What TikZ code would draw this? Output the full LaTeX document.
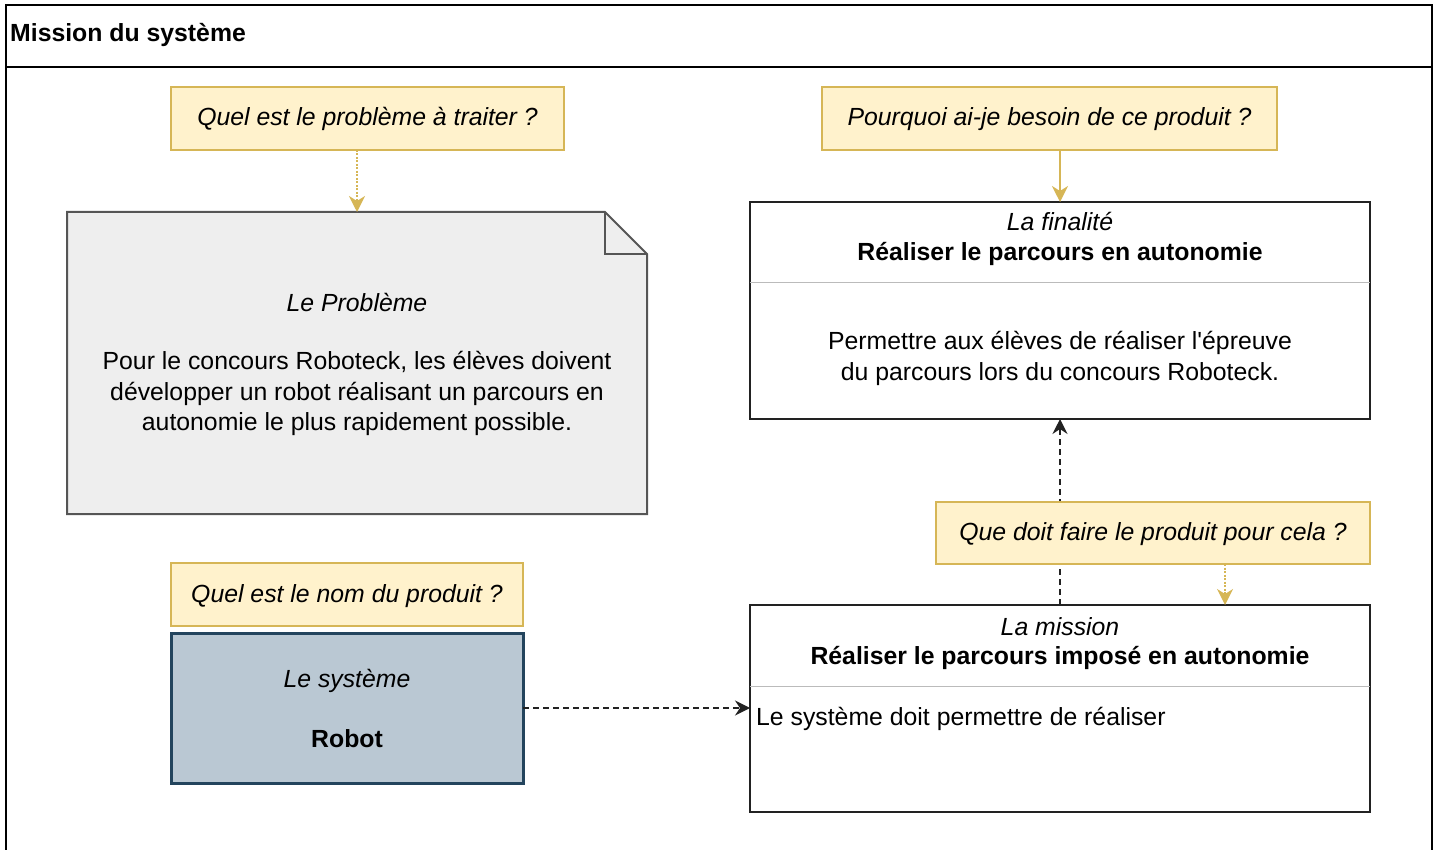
\documentclass[tikz,border=0pt]{standalone}
\usepackage{fontspec}
\setmainfont{Liberation Sans}
\usetikzlibrary{arrows.meta,calc}
\definecolor{qfill}{HTML}{FFF2CC}
\definecolor{qdraw}{HTML}{D6B656}
\definecolor{notefill}{HTML}{EEEEEE}
\definecolor{notedraw}{HTML}{555555}
\definecolor{robfill}{HTML}{BAC8D3}
\definecolor{robdraw}{HTML}{23445D}
\definecolor{sepcol}{HTML}{BBBBBB}
\definecolor{boxdraw}{HTML}{222222}
\newcommand\myfs{\fontsize{24.8}{30}\selectfont}
\begin{document}
\begin{tikzpicture}[x=1pt,y=-1pt,
  txt/.style={anchor=base, inner sep=0pt, font=\myfs},
  itxt/.style={txt, font=\myfs\itshape},
  btxt/.style={txt, font=\myfs\bfseries},
  shell/.style={inner sep=0pt, outer sep=0pt},
  whitebox/.style={shell, draw=boxdraw, fill=white, line width=2pt},
  qbox/.style={shell, draw=qdraw, fill=qfill, line width=1.5pt},
  goldtip/.style={-{Stealth[length=16pt,width=16pt,inset=5pt]}},
  goldarrow/.style={draw=qdraw, line width=1.5pt, goldtip},
  golddotted/.style={goldarrow, dash pattern=on 2pt off 1.5pt},
  dashline/.style={draw=boxdraw, line width=1.5pt, dash pattern=on 6pt off 4pt},
  blackarrow/.style={dashline, -{Stealth[length=15pt,width=15pt,inset=5pt]}}
]
\useasboundingbox (0,0) rectangle (1436,850);

% outer frame
\draw[line width=2pt] (6,852) -- (6,5) -- (1432,5) -- (1432,852);
\draw[line width=2pt] (6,67) -- (1432,67);
\node[btxt, anchor=base west] (title) at (10,42) {Mission du système};

% note (problem)
\node[shell, minimum width=580pt, minimum height=302pt] (note) at (357,363) {};
\draw[fill=notefill, draw=notedraw, line width=2pt]
  (note.south west) -- (note.north west) -- ($(note.north east)+(-42,0)$)
  -- ($(note.north east)+(0,42)$) -- (note.south east) -- cycle;
\draw[draw=notedraw, line width=2pt]
  ($(note.north east)+(-42,0)$) -- ($(note.north east)+(-42,42)$) -- ($(note.north east)+(0,42)$);
\node[itxt] (probt) at (357,312) {Le Problème};
\node[txt] (prob1) at (357,370) {Pour le concours Roboteck, les élèves doivent};
\node[txt] (prob2) at (357,401) {développer un robot réalisant un parcours en};
\node[txt] (prob3) at (357,431) {autonomie le plus rapidement possible.};

% finalite
\node[whitebox, minimum width=620pt, minimum height=217pt] (fin) at (1060,310.5) {};
\draw[sepcol, line width=1pt] (fin.west |- 0,283) -- (fin.east |- 0,283);
\node[itxt] (fint) at (1060,231) {La finalité};
\node[btxt] (finb) at (1060,261) {Réaliser le parcours en autonomie};
\node[txt] (fin1) at (1060,350) {Permettre aux élèves de réaliser l\textquotesingle épreuve};
\node[txt] (fin2) at (1060,381) {du parcours lors du concours Roboteck.};

% mission
\node[whitebox, minimum width=620pt, minimum height=207pt] (mis) at (1060,708.5) {};
\draw[sepcol, line width=1pt] (mis.west |- 0,686) -- (mis.east |- 0,686);
\node[itxt] (mist) at (1060,635) {La mission};
\node[btxt] (misb) at (1060,664) {Réaliser le parcours imposé en autonomie};
\node[txt, anchor=base west] (mis1) at (756,725) {Le système doit permettre de réaliser};

% robot
\node[shell, draw=robdraw, fill=robfill, line width=3pt, minimum width=352pt, minimum height=150pt] (robot) at (347,708) {};
\node[itxt] (robt) at (347,687) {Le système};
\node[btxt] (robb) at (347,747) {Robot};

% connectors
\draw[dashline] ($(note.east)+(0,-16)$) -- ($(note.east)+(0,-16)$ -| fin.west);
\draw[blackarrow] (mis.north) -- (fin.south);
\draw[blackarrow] (robot.east) -- (robot.east -| mis.west);

% questions
\node[qbox, minimum width=393pt, minimum height=63pt] (q1) at (367.5,118.5) {};
\node[itxt] at (q1.center) [yshift=-7.5pt] {Quel est le problème à traiter ?};
\node[qbox, minimum width=455pt, minimum height=63pt] (q2) at (1049.5,118.5) {};
\node[itxt] at (q2.center) [yshift=-7.5pt] {Pourquoi ai-je besoin de ce produit ?};
\node[qbox, minimum width=434pt, minimum height=62pt] (q3) at (1153,533) {};
\node[itxt] at (q3.center) [yshift=-7pt] {Que doit faire le produit pour cela ?};
\node[qbox, minimum width=352pt, minimum height=63pt] (q4) at (347,594.5) {};
\node[itxt] at (q4.center) [yshift=-7.5pt] {Quel est le nom du produit ?};

\draw[golddotted] (q1.south -| note.north) -- (note.north);
\draw[goldarrow] (q2.south -| fin.north) -- (fin.north);
\coordinate (q3out) at ($(q3.south west)!0.666!(q3.south east)$);
\draw[golddotted] (q3out) -- (q3out |- mis.north);
\end{tikzpicture}
\end{document}
